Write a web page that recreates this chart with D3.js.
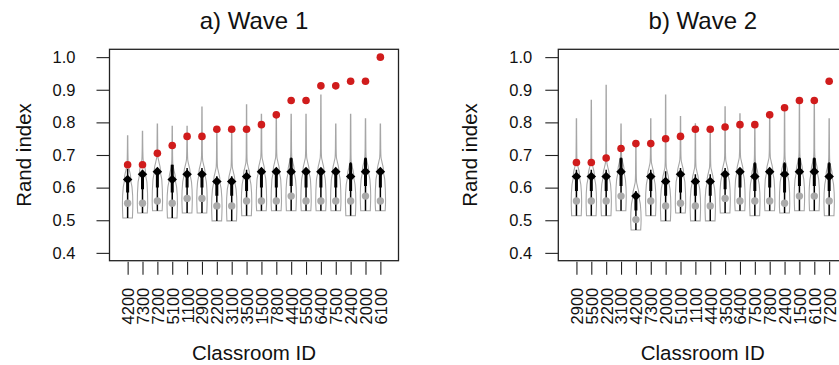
<!DOCTYPE html>
<html>
<head>
<meta charset="utf-8">
<script src="https://cdn.jsdelivr.net/npm/d3@7"></script>
<style>
  html, body { margin: 0; padding: 0; background: #fff; }
  svg { display: block; font-family: "Liberation Sans", Arial, Helvetica, sans-serif; }
</style>
</head>
<body>
<svg id="chart" width="839" height="365"></svg>
<script>
// ---------------- data ----------------
const yTicks = [0.4, 0.5, 0.6, 0.7, 0.8, 0.9, 1.0];

// Wave 1
const wave1Ids      = ["4200","7300","7200","5100","1100","2900","2200","3100","3500","1500","7800","4400","5500","6400","7500","2400","2000","6100"];
const wave1Observed = [0.670,0.670,0.705,0.729,0.757,0.757,0.779,0.779,0.779,0.793,0.823,0.867,0.867,0.912,0.912,0.926,0.926,1.000];
const wave1Median   = [0.625,0.641,0.649,0.625,0.641,0.641,0.619,0.619,0.634,0.649,0.649,0.649,0.649,0.649,0.649,0.634,0.649,0.649];
const wave1Grey     = [0.552,0.552,0.559,0.552,0.567,0.567,0.544,0.544,0.559,0.559,0.559,0.574,0.559,0.559,0.559,0.559,0.574,0.559];
const wave1Min      = [0.507,0.522,0.529,0.507,0.522,0.522,0.498,0.498,0.514,0.529,0.529,0.529,0.529,0.529,0.529,0.514,0.529,0.529];
const wave1Max      = [0.759,0.773,0.795,0.788,0.788,0.847,0.780,0.780,0.854,0.825,0.820,0.825,0.825,0.884,0.795,0.825,0.811,0.795];
const wave1WhiskHi  = [0.658,0.655,0.660,0.670,0.660,0.660,0.635,0.635,0.655,0.660,0.660,0.692,0.660,0.660,0.660,0.678,0.692,0.660];
const wave1Q3       = [0.630,0.645,0.652,0.670,0.645,0.645,0.623,0.623,0.638,0.652,0.652,0.690,0.652,0.652,0.652,0.675,0.690,0.652];
const wave1Q1       = [0.585,0.595,0.600,0.585,0.600,0.600,0.575,0.575,0.590,0.600,0.600,0.605,0.600,0.600,0.600,0.590,0.605,0.600];

// Wave 2
const wave2Ids      = ["2900","5500","2200","3100","4200","7300","2000","5100","1100","4400","3500","6400","7500","7800","2400","1500","6100","7200"];
const wave2Observed = [0.677,0.677,0.691,0.720,0.735,0.735,0.750,0.757,0.779,0.779,0.786,0.793,0.793,0.823,0.845,0.867,0.867,0.926];
const wave2Median   = [0.634,0.634,0.634,0.649,0.574,0.634,0.619,0.641,0.619,0.619,0.641,0.649,0.634,0.649,0.641,0.649,0.649,0.634];
const wave2Grey     = [0.559,0.559,0.559,0.574,0.502,0.559,0.544,0.552,0.544,0.544,0.567,0.559,0.559,0.559,0.552,0.574,0.574,0.559];
const wave2Min      = [0.514,0.514,0.514,0.529,0.470,0.514,0.498,0.522,0.498,0.498,0.522,0.529,0.514,0.529,0.522,0.529,0.529,0.514];
const wave2Max      = [0.811,0.868,0.914,0.795,0.735,0.811,0.884,0.818,0.796,0.780,0.848,0.826,0.790,0.820,0.845,0.865,0.865,0.811];
const wave2WhiskHi  = [0.655,0.655,0.655,0.692,0.590,0.655,0.650,0.660,0.641,0.641,0.660,0.660,0.678,0.660,0.678,0.692,0.692,0.678];
const wave2Q3       = [0.638,0.638,0.638,0.690,0.578,0.638,0.623,0.645,0.623,0.623,0.645,0.652,0.675,0.652,0.675,0.690,0.690,0.675];
const wave2Q1       = [0.590,0.590,0.590,0.605,0.530,0.590,0.575,0.585,0.575,0.575,0.595,0.600,0.590,0.600,0.585,0.605,0.605,0.590];

// violin outline profile: [offset from median (value units, or "min"/"grey"/"max"), relative half-width]
const violinProfile = [["min",0.92],["grey",1.0],[-0.025,0.85],[-0.005,0.62],[0.012,0.55],[0.03,0.3],[0.045,0.12],[0.07,0.07],["max",0.03]];

// ---------------- drawing ----------------
const svg = d3.select("#chart");
const COL_RED = "#d01c1c", COL_GREY = "#aaaaaa", COL_OUT = "#a6a6a6";

function panel(opts) {
  const {left, right, top, bottom, title, ids, obs, med, grey, mn, mx, whi, q1, q3, labelPad, yTitleX} = opts;
  const g = svg.append("g");
  const x = d3.scaleLinear().domain([-0.22, 19.22]).range([left, right]);
  const y = d3.scaleLinear().domain([0.376, 1.024]).range([bottom, top]);
  const idx = d3.range(ids.length);
  const halfW = (x(1) - x(0)) * 0.35;

  const clipId = "clip" + Math.round(left);
  svg.append("clipPath").attr("id", clipId).append("rect")
    .attr("x", left).attr("y", top).attr("width", right - left).attr("height", bottom - top);
  const plot = g.append("g").attr("clip-path", `url(#${clipId})`);

  // violins
  const line = d3.line().curve(d3.curveMonotoneY);
  idx.forEach(i => {
    const cx = x(i + 1);
    let pts = violinProfile.map(([o, w]) => {
      let v;
      if (o === "min") v = mn[i];
      else if (o === "grey") v = grey[i];
      else if (o === "max") v = mx[i];
      else v = med[i] + o;
      return [v, w];
    });
    const lo = mn[i], hi = mx[i];
    pts = pts.filter((p, k) => k === 0 || k === pts.length - 1 || (p[0] > lo + 0.003 && p[0] < hi - 0.003));
    pts.sort((a, b) => a[0] - b[0]);
    const rightSide = pts.map(([v, w]) => [cx + w * halfW, y(v)]);
    const leftSide = pts.slice().reverse().map(([v, w]) => [cx - w * halfW, y(v)]);
    const d = line(rightSide) + "L" + line(leftSide).slice(1) + "Z";
    plot.append("path").attr("d", d).attr("fill", "none")
      .attr("stroke", COL_OUT).attr("stroke-width", 1.1);
  });

  // whisker (thin black) and box (thick black)
  plot.selectAll(".wh").data(idx).join("line")
    .attr("x1", i => x(i + 1)).attr("x2", i => x(i + 1))
    .attr("y1", i => y(mn[i])).attr("y2", i => y(whi[i]))
    .attr("stroke", "#000").attr("stroke-width", 1.5);
  plot.selectAll(".bx").data(idx).join("line")
    .attr("x1", i => x(i + 1)).attr("x2", i => x(i + 1))
    .attr("y1", i => y(q1[i])).attr("y2", i => y(q3[i]))
    .attr("stroke", "#000").attr("stroke-width", 3);

  // grey dots
  plot.selectAll(".gd").data(idx).join("circle")
    .attr("cx", i => x(i + 1)).attr("cy", i => y(grey[i])).attr("r", 3.7)
    .attr("fill", COL_GREY);
  // median diamonds
  const dia = d3.symbol().type(d3.symbolDiamond2).size(58);
  plot.selectAll(".md").data(idx).join("path")
    .attr("transform", i => `translate(${x(i + 1)},${y(med[i])})`)
    .attr("d", dia).attr("fill", "#000");
  // red observed dots
  plot.selectAll(".rd").data(idx).join("circle")
    .attr("cx", i => x(i + 1)).attr("cy", i => y(obs[i])).attr("r", 3.8)
    .attr("fill", COL_RED);

  // box
  g.append("rect").attr("x", left).attr("y", top)
    .attr("width", right - left).attr("height", bottom - top)
    .attr("fill", "none").attr("stroke", "#222").attr("stroke-width", 1.3);

  // y axis
  const ya = g.append("g").attr("transform", `translate(${left},0)`)
    .call(d3.axisLeft(y).tickValues(yTicks).tickFormat(d3.format(".1f"))
      .tickSize(13).tickPadding(labelPad));
  ya.select(".domain").remove();
  ya.selectAll("line").attr("stroke", "#222").attr("stroke-width", 1.1);
  ya.selectAll("text").attr("font-size", 16.5).attr("fill", "#111")
    .attr("font-family", "Liberation Sans, Arial, sans-serif");

  // x axis
  const xa = g.append("g").attr("transform", `translate(0,${bottom + 1})`)
    .call(d3.axisBottom(x).tickValues(idx.map(i => i + 1)).tickFormat(d => ids[d - 1])
      .tickSize(13));
  xa.select(".domain").remove();
  xa.selectAll("line").attr("stroke", "#222").attr("stroke-width", 1.1);
  xa.selectAll("text")
    .attr("transform", "rotate(-90)")
    .attr("text-anchor", "end")
    .attr("x", -26).attr("y", 0).attr("dy", "0.36em")
    .attr("font-size", 16.5).attr("fill", "#111")
    .attr("font-family", "Liberation Sans, Arial, sans-serif");

  // titles
  const cxp = (left + right) / 2;
  svg.append("text").attr("x", cxp).attr("y", 29).attr("text-anchor", "middle")
    .attr("font-size", 24).attr("fill", "#111").text(title);
  svg.append("text").attr("x", cxp).attr("y", 360).attr("text-anchor", "middle")
    .attr("font-size", 20.5).attr("fill", "#111").text("Classroom ID");
  svg.append("text").attr("transform", `translate(${yTitleX},${(top + bottom) / 2}) rotate(-90)`)
    .attr("text-anchor", "middle").attr("font-size", 20.5).attr("fill", "#111").text("Rand index");
}

panel({left: 109.5, right: 398.5, top: 49.3, bottom: 260.7, title: "a) Wave 1",
  ids: wave1Ids, obs: wave1Observed, med: wave1Median, grey: wave1Grey, mn: wave1Min, mx: wave1Max,
  whi: wave1WhiskHi, q1: wave1Q1, q3: wave1Q3, labelPad: 21, yTitleX: 31});
panel({left: 558.3, right: 847.3, top: 49.3, bottom: 260.7, title: "b) Wave 2",
  ids: wave2Ids, obs: wave2Observed, med: wave2Median, grey: wave2Grey, mn: wave2Min, mx: wave2Max,
  whi: wave2WhiskHi, q1: wave2Q1, q3: wave2Q3, labelPad: 13, yTitleX: 477});
</script>
</body>
</html>
